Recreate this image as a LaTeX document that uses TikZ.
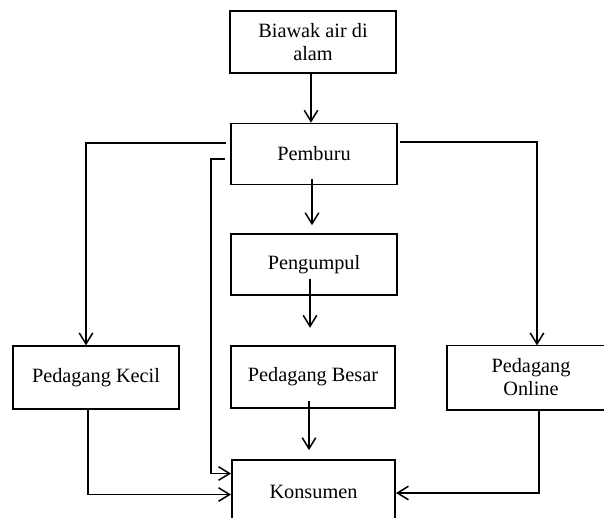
\documentclass[tikz,border=0pt]{standalone}
\usepackage{fontspec}
\setmainfont{Liberation Serif}
\usetikzlibrary{arrows.meta,calc}

\tikzset{box/.style={draw,line width=1pt,align=center,inner sep=0pt,minimum width=98pt,minimum height=37pt,font=\fontsize{12}{13.6}\selectfont},
flat box/.style={box,minimum height=36pt},
arr/.style={line width=0.9pt,-{Straight Barb[length=6.5pt,width=8pt]}}}

\begin{document}
\begin{tikzpicture}[x=0.591pt,y=-0.591pt]
\useasboundingbox (0,0) rectangle (604,517);
\clip (0,0) rectangle (604,517);

%% Coordinates of boxes.
\coordinate (c1) at (313,42);
\coordinate (c2) at (314,154);
\coordinate (c3) at (314,264.5);
\coordinate (c4) at (96,377.5);
\coordinate (c5) at (313,377);
\coordinate (c6) at (531,377.5);
\coordinate (c7) at (313.5,491.5);

%% boxes
\node [box] (n1) at (c1) {Biawak air di\\alam};
\node [flat box] (n2) at (c2) {Pemburu};
\node [flat box] (n3) at (c3) {Pengumpul};
\node [box] (n4) at (c4) {Pedagang Kecil};
\node [box,minimum width=97pt] (n5) at (c5) {Pedagang Besar};
\node [box,draw=none] (n6) at (c6) {Pedagang\\Online};
\node [box,minimum width=96.5pt] (n7) at (c7) {Konsumen};

%% right box is cut by the page edge
\draw [line width=1pt] (n6.north east) -- (n6.north west) -- (n6.south west) -- (n6.south east);

%% middle arrows
\draw [arr] ($(n1.south)+(-2,0)$) -- ($(n1.south |- n2.north)+(-2,0)$);
\draw [arr] ($(n2.south)+(-2,-6)$) -- ($(n3.north)+(-2,-8)$);
\draw [arr] ($(n3.south)+(-4,-17)$) -- ($(n3.south)+(-4,32)$);
\draw [arr] ($(n5.south)+(-4,-8)$) -- ($(n5.south)+(-4,41)$);

%% side arrows
\draw [arr] ($(n2.west)+(-4,-11)$) -| ($(n4.north)+(-10,0)$);
\draw [arr] ($(n2.west)+(-5,5)$) -| ($(n7.west)+(-20,-18)$) -- ($(n7.west)+(0,-18)$);
\draw [arr] ($(n2.east)+(2,-12)$) -| ($(n6.north)+(6,0)$);
\draw [arr] ($(n4.south)+(-8,0)$) |- ($(n7.west)+(0,3)$);
\draw [arr] ($(n6.south)+(8,0)$) |- ($(n7.east)+(0,1.5)$);

\end{tikzpicture}
\end{document}
